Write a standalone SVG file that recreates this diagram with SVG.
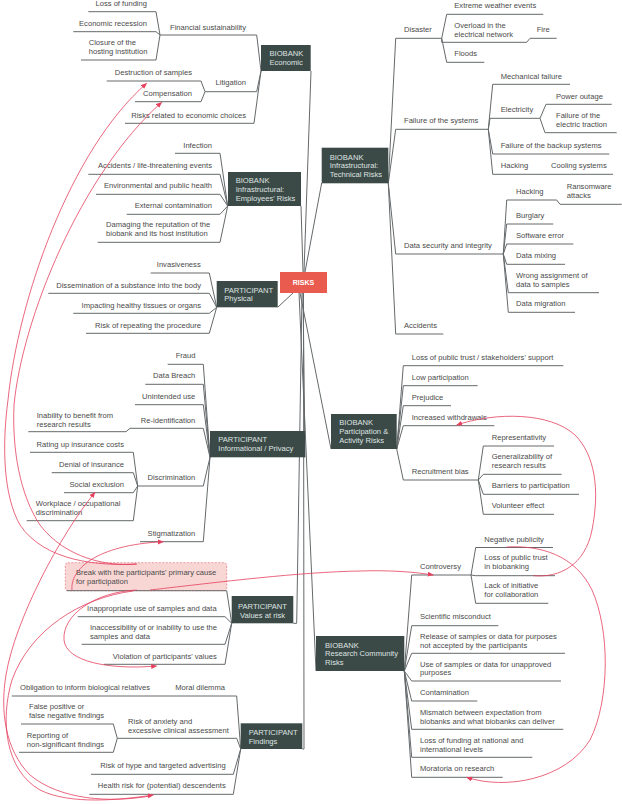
<svg xmlns="http://www.w3.org/2000/svg" width="622" height="804" viewBox="0 0 622 804">
<style>
text{font-family:"Liberation Sans",Arial,sans-serif;font-size:7.6px;fill:#4a4a4a}
.e{text-anchor:end}
.n{fill:#dfe3e2}
.m{text-anchor:middle}
.u,.c{stroke:#65696b;stroke-width:1;fill:none}
.box{fill:#3c4a47}
.r{stroke:#e5405e;stroke-width:0.8;fill:none;marker-end:url(#ah)}
.rn{stroke:#e5405e;stroke-width:0.8;fill:none}
</style>
<defs>
<marker id="ah" markerUnits="userSpaceOnUse" markerWidth="6" markerHeight="6" refX="5.5" refY="3" orient="auto"><path d="M0,0.5 L6,3 L0,5.5 z" fill="#e5405e"/></marker>
</defs>
<rect width="622" height="804" fill="#ffffff"/>
<g id="connectors" class="c">
<path d="M311,71 L304,272 M301,206 L303,272 M321.7,183 L305,272 M277.7,307.3 L293,293 M303,293 L305,457.3 M300,293 L331,449 M302,293 L296.7,623.3 L293.3,623.3 M299,293 L316,671 M303.5,293 L304,749 L302.3,749"/>
<path d="M261,71 L256.7,35 M261,71 L256.7,91.7 M261,71 L254,123.3 M160,35 L156,11.7 M160,35 L156,31.7 M160,35 L156,60 M205,91.7 L201,81 M205,91.7 L201,101.7"/>
<path d="M227.7,206 L220,153.3 M227.7,206 L220,174.3 M227.7,206 L220,194.3 M227.7,206 L220,214.3 M227.7,206 L220,242.3"/>
<path d="M216.7,307.3 L209.3,273 M216.7,307.3 L209.3,293.3 M216.7,307.3 L209.3,313.3 M216.7,307.3 L209.3,333.3"/>
<path d="M210,457.3 L203.3,364.3 M210,457.3 L203.3,384.3 M210,457.3 L203.3,404.7 M210,457.3 L203.3,428.3 M210,457.3 L203.3,486 M210,457.3 L203.3,541.7 M130,428.3 L126,431.7 M137.7,486 L133.3,452.3 M137.7,486 L133.3,472.7 M137.7,486 L133.3,492.7 M137.7,486 L133.3,520.7"/>
<path d="M231.7,623.3 L226.7,590.7 M231.7,623.3 L225,616.7 M231.7,623.3 L225,644.3 M231.7,623.3 L225,664.3"/>
<path d="M240.7,749 L236.7,696 M240.7,749 L236.7,738.3 M240.7,749 L233.3,774.3 M240.7,749 L233.3,794.3 M117.3,738.3 L113.3,724 M117.3,738.3 L113.3,752.3"/>
<path d="M388.3,183.3 L395.7,38.3 M388.3,183.3 L395.7,129.3 M388.3,183.3 L395.7,254 M388.3,183.3 L395.7,334 M441.7,38.3 L446.7,14.3 M441.7,38.3 L441.7,42.3 M441.7,38.3 L446.7,62.3 M526.7,42.3 L530,38.3"/>
<path d="M488.3,129.3 L492.7,84.3 M488.3,129.3 L490,118.3 M488.3,129.3 L492.7,154 M488.3,129.3 L492.7,174.3 M540,118.3 L546,104.3 M540,118.3 L545,132.7"/>
<path d="M503.3,254 L506.7,200 M503.3,254 L506.7,224 M503.3,254 L506.7,244 M503.3,254 L506.7,264.3 M503.3,254 L508.3,292.7 M503.3,254 L508.3,312.3 M556.7,200 L560,204.3"/>
<path d="M396.7,449 L403.3,365.7 M396.7,449 L403.3,385.7 M396.7,449 L403.3,405.7 M396.7,449 L403.3,425.7 M396.7,449 L403.3,480 M478.3,480 L483.3,446 M478.3,480 L483.3,474.3 M478.3,480 L483.3,494.3 M478.3,480 L483.3,514.3"/>
<path d="M404.3,671 L411.7,575 M404.3,671 L411.7,625.7 M404.3,671 L411.7,653.3 M404.3,671 L411.7,681 M404.3,671 L411.7,701 M404.3,671 L411.7,729.3 M404.3,671 L411.7,757.3 M404.3,671 L411.7,777.3 M471,575 L475.7,547.5 M471,575 L475.7,575.7 M471,575 L475.7,603.3"/>
</g>
<g id="risks"><rect x="280" y="272" width="47" height="21" fill="#ea5b4f"/><text x="303.5" y="285" class="m" style="fill:#fff;font-weight:bold;font-size:7px">RISKS</text></g>
<g id="biobank-economic"><rect class="box" x="261" y="45" width="49.7" height="26"/><text class="n" x="269.5" y="56">BIOBANK</text><text class="n" x="269.5" y="65.4">Economic</text></g>
<g id="biobank-employees"><rect class="box" x="228" y="172" width="73" height="34"/><text class="n" x="235.7" y="182.7">BIOBANK</text><text class="n" x="235.7" y="191.7">Infrastructural:</text><text class="n" x="235.7" y="200.7">Employees' Risks</text></g>
<g id="biobank-technical"><rect class="box" x="321.7" y="147.7" width="66.6" height="35.6"/><text class="n" x="329.7" y="159.7">BIOBANK</text><text class="n" x="329.7" y="168.4">Infrastructural:</text><text class="n" x="329.7" y="177">Technical Risks</text></g>
<g id="participant-physical"><rect class="box" x="216.7" y="281" width="61" height="26.3"/><text class="n" x="224.3" y="292.7">PARTICIPANT</text><text class="n" x="224.3" y="301.4">Physical</text></g>
<g id="participant-informational"><rect class="box" x="210" y="431" width="95" height="26.3"/><text class="n" x="218.3" y="442.4">PARTICIPANT</text><text class="n" x="218.3" y="451.4">Informational / Privacy</text></g>
<g id="biobank-participation"><rect class="box" x="331" y="414" width="65.7" height="35"/><text class="n" x="339.3" y="425.4">BIOBANK</text><text class="n" x="339.3" y="434">Participation &amp;</text><text class="n" x="339.3" y="442.7">Activity Risks</text></g>
<g id="participant-values"><rect class="box" x="231.7" y="596" width="61.6" height="27.3"/><text class="n m" x="262.5" y="608.7">PARTICIPANT</text><text class="n m" x="262.5" y="617.7">Values at risk</text></g>
<g id="biobank-research"><rect class="box" x="316" y="636" width="88.3" height="35"/><text class="n" x="325" y="647.7">BIOBANK</text><text class="n" x="325" y="656.4">Research Community</text><text class="n" x="325" y="665.4">Risks</text></g>
<g id="participant-findings"><rect class="box" x="240.7" y="723.3" width="61.6" height="25.7"/><text class="n" x="248.7" y="734.7">PARTICIPANT</text><text class="n" x="248.7" y="743.7">Findings</text></g>
<g id="break-topic"><rect x="65.3" y="562.7" width="161.4" height="28" rx="2.5" fill="#f8d6d4" stroke="#e8838a" stroke-width="0.8" stroke-dasharray="2 1.5"/><text x="76" y="575.4">Break with the participants' primary cause</text><text x="76" y="584.4">for participation</text><path class="u" d="M66.7,590.7 H226.7"/></g>
<g id="economic-topics">
<path class="u" d="M88.3,11.7 H156 M73.3,31.7 H156 M81,60 H156 M160,35 H256.7 M106.7,81 H201 M135,101.7 H201 M205,91.7 H256.7 M125,123.3 H254"/>
<text class="e" x="147" y="6">Loss of funding</text>
<text class="e" x="147" y="26">Economic recession</text>
<text x="88.7" y="45">Closure of the</text><text x="88.7" y="53.7">hosting institution</text>
<text class="e" x="246" y="30">Financial sustainability</text>
<text class="e" x="192" y="75.4">Destruction of samples</text>
<text class="e" x="192" y="95.7">Compensation</text>
<text class="e" x="246" y="85.4">Litigation</text>
<text class="e" x="246" y="117.7">Risks related to economic choices</text>
</g>
<g id="employees-topics">
<path class="u" d="M175,153.3 H220 M88.3,174.3 H220 M96,194.3 H220 M126.7,214.3 H220 M97.7,242.3 H220"/>
<text class="e" x="212" y="147.7">Infection</text>
<text class="e" x="212" y="168">Accidents / life-threatening events</text>
<text class="e" x="212" y="188.4">Environmental and public health</text>
<text class="e" x="212" y="208.4">External contamination</text>
<text x="106" y="227">Damaging the reputation of the</text><text x="106" y="236">biobank and its host institution</text>
</g>
<g id="physical-topics">
<path class="u" d="M150.7,273 H209.3 M48.3,293.3 H209.3 M73.3,313.3 H209.3 M86,333.3 H209.3"/>
<text class="e" x="200.7" y="267">Invasiveness</text>
<text class="e" x="201" y="287.7">Dissemination of a substance into the body</text>
<text class="e" x="201" y="307.7">Impacting healthy tissues or organs</text>
<text class="e" x="201" y="327.7">Risk of repeating the procedure</text>
</g>
<g id="informational-topics">
<path class="u" d="M167.7,364.3 H203.3 M145.3,384.3 H203.3 M135,404.7 H203.3 M130,428.3 H203.3 M28.3,431.7 H126 M30,452.3 H133.3 M51.7,472.7 H133.3 M64,492.7 H133.3 M26.7,520.7 H133.3 M137.7,486 H203.3 M140,541.7 H203.3"/>
<text class="e" x="195.5" y="358.4">Fraud</text>
<text class="e" x="195.3" y="378.4">Data Breach</text>
<text class="e" x="195.3" y="398.7">Unintended use</text>
<text class="e" x="195.3" y="422.7">Re-identification</text>
<text x="36.7" y="417.7">Inability to benefit from</text><text x="36.7" y="426.7">research results</text>
<text class="e" x="124" y="446.7">Rating up insurance costs</text>
<text class="e" x="124" y="466.7">Denial of insurance</text>
<text class="e" x="124" y="486.7">Social exclusion</text>
<text x="35.7" y="506">Workplace / occupational</text><text x="35.7" y="515">discrimination</text>
<text class="e" x="195.3" y="480.4">Discrimination</text>
<text class="e" x="195.3" y="536">Stigmatization</text>
</g>
<g id="values-topics">
<path class="u" d="M77.7,616.7 H225 M81.7,644.3 H225 M104,664.3 H225"/>
<text class="e" x="216.7" y="611">Inappropriate use of samples and data</text>
<text x="90" y="630">Inaccessibility of or inability to use the</text><text x="90" y="639">samples and data</text>
<text class="e" x="216.7" y="658.7">Violation of participants' values</text>
</g>
<g id="findings-topics">
<path class="u" d="M11.7,696 H236.7 M117.3,738.3 H236.7 M21,724 H113.3 M19,752.3 H113.3 M91,774.3 H233.3 M89.3,794.3 H233.3"/>
<text x="20" y="690">Obligation to inform biological relatives</text>
<text class="e" x="225" y="690">Moral dilemma</text>
<text x="29" y="709.4">False positive or</text><text x="29" y="718.4">false negative findings</text>
<text x="26.7" y="737.7">Reporting of</text><text x="26.7" y="746.7">non-significant findings</text>
<text x="128" y="723.7">Risk of anxiety and</text><text x="128" y="733">excessive clinical assessment</text>
<text class="e" x="225.7" y="768.4">Risk of hype and targeted advertising</text>
<text class="e" x="225.7" y="788.4">Health risk for (potential) descendents</text>
</g>
<g id="technical-topics">
<path class="u" d="M446.7,14.3 H543.3 M441.7,42.3 H526.7 M530,38.3 H556.7 M446.7,62.3 H484.3 M395.7,38.3 H441.7 M395.7,129.3 H488.3 M492.7,84.3 H570 M490,118.3 H540 M546,104.3 H611.7 M545,132.7 H616.7 M492.7,154 H609.3 M492.7,174.3 H613 M395.7,254 H503.3 M506.7,200 H556.7 M560,204.3 H621.7 M506.7,224 H553.3 M506.7,244 H573.3 M506.7,264.3 H565 M508.3,292.7 H599 M508.3,312.3 H575 M395.7,334 H443.3"/>
<text x="454.3" y="8.4">Extreme weather events</text>
<text x="454.3" y="27.7">Overload in the</text><text x="454.3" y="36.7">electrical network</text>
<text x="536.7" y="32">Fire</text>
<text x="454.3" y="56">Floods</text>
<text x="404" y="32">Disaster</text>
<text x="404" y="123.4">Failure of the systems</text>
<text x="500.7" y="78.7">Mechanical failure</text>
<text x="500.7" y="112">Electricity</text>
<text x="556" y="98.7">Power outage</text>
<text x="556" y="117.7">Failure of the</text><text x="556" y="126.7">electric traction</text>
<text x="500.7" y="147.7">Failure of the backup systems</text>
<text x="500.7" y="168.4">Hacking</text>
<text x="551" y="168.4">Cooling systems</text>
<text x="404" y="247.7">Data security and integrity</text>
<text x="516" y="194.4">Hacking</text>
<text x="566.7" y="189.4">Ransomware</text><text x="566.7" y="198.4">attacks</text>
<text x="516" y="217.7">Burglary</text>
<text x="516" y="237.7">Software error</text>
<text x="516" y="257.7">Data mixing</text>
<text x="516" y="277.7">Wrong assignment of</text><text x="516" y="286.7">data to samples</text>
<text x="516" y="306">Data migration</text>
<text x="404" y="327.7">Accidents</text>
</g>
<g id="participation-topics">
<path class="u" d="M403.3,365.7 H563.3 M403.3,385.7 H477.7 M403.3,405.7 H451 M403.3,425.7 H494.3 M403.3,480 H478.3 M483.3,446 H554 M483.3,474.3 H561.7 M483.3,494.3 H579 M483.3,514.3 H554"/>
<text x="411.7" y="360">Loss of public trust / stakeholders' support</text>
<text x="411.7" y="380">Low participation</text>
<text x="411.7" y="400">Prejudice</text>
<text x="411.7" y="420.4">Increased withdrawals</text>
<text x="411.7" y="473.7">Recruitment bias</text>
<text x="491.7" y="440">Representativity</text>
<text x="491.7" y="459.4">Generalizability of</text><text x="491.7" y="468.4">research results</text>
<text x="491.7" y="488.4">Barriers to participation</text>
<text x="491.7" y="508.4">Volunteer effect</text>
</g>
<g id="research-topics">
<path class="u" d="M411.7,575 H471 M475.7,547.5 H553 M475.7,575.7 H555 M475.7,603.3 H548.3 M411.7,625.7 H498.3 M411.7,653.3 H565 M411.7,681 H561 M411.7,701 H477.3 M411.7,729.3 H563.3 M411.7,757.3 H532.3 M411.7,777.3 H502.7"/>
<text x="484.3" y="541.7">Negative publicity</text>
<text x="420" y="569.4">Controversy</text>
<text x="484.3" y="560.4">Loss of public trust</text><text x="484.3" y="569.4">in biobanking</text>
<text x="484.3" y="588.4">Lack of initiative</text><text x="484.3" y="597.4">for collaboration</text>
<text x="420" y="619.4">Scientific misconduct</text>
<text x="420" y="638.7">Release of samples or data for purposes</text><text x="420" y="647.7">not accepted by the participants</text>
<text x="420" y="666.7">Use of samples or data for unapproved</text><text x="420" y="675.4">purposes</text>
<text x="420" y="695.4">Contamination</text>
<text x="420" y="715">Mismatch between expectation from</text><text x="420" y="723.7">biobanks and what biobanks can deliver</text>
<text x="420" y="742.7">Loss of funding at national and</text><text x="420" y="751.7">international levels</text>
<text x="420" y="771.4">Moratoria on research</text>
</g>
<g id="relations">
<path class="r" d="M136.7,564 C100,566 45,562 20,525 C3,495 2,445 8,400 C18,300 70,150 146.7,83.3"/>
<path class="r" d="M136.7,564 C108,567 65,558 40,525 C20,495 12,450 14,405 C22,320 80,175 161.7,102.3"/>
<path class="r" d="M72,590 C70,570 95,545 163.3,541.7"/>
<path class="r" d="M136.7,590 C95,592 62,615 64,640 C66,662 110,670 156.7,666"/>
<path class="r" d="M150,590 C220,582 300,572 360,571 C390,570 415,572 433.3,575"/>
<path class="r" d="M133,591 C80,598 30,630 12,680 C0,720 5,770 40,790 C70,805 120,800 153.3,795"/>
<path class="r" d="M150,796 C110,803 60,800 30,775 C5,750 0,710 6,675 C15,620 60,535 95,492.3"/>
<path class="r" d="M533.3,575.7 C560,578 585,565 592,530 C600,490 595,455 575,435 C550,412 495,412 456.7,425"/>
<path class="r" d="M506.7,547 C540,545 575,555 592,590 C610,630 610,700 590,740 C565,780 505,790 466.7,777.3"/>
</g>
</svg>
